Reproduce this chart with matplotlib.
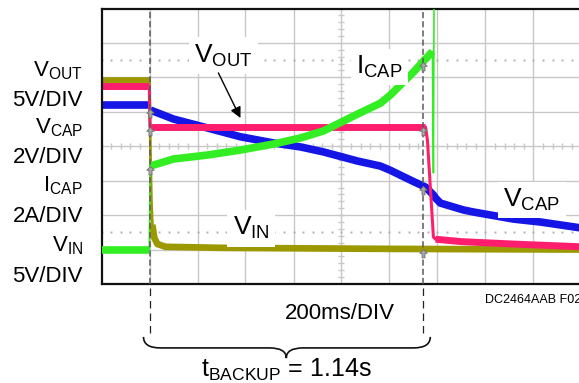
import numpy as np
import matplotlib.pyplot as plt
from matplotlib.path import Path
from matplotlib.patches import PathPatch

plt.rcParams['font.family'] = ['Liberation Sans', 'DejaVu Sans']
plt.rcParams['mathtext.fontset'] = 'custom'
plt.rcParams['mathtext.rm'] = 'Liberation Sans'
plt.rcParams['mathtext.it'] = 'Liberation Sans'

# scope: 200ms/DIV, power lost at t = 0
ms_per_div = 200
t_start, t_stop = -200, 1800
t_backup = 1140

# V_IN, 5V/DIV
vin_t = [-200, 0, 4, 8, 12, 20, 33, 67, 300, 1000, 1800]
vin_v = [24.6, 24.6, 14.0, 7.0, 3.6, 1.7, 0.8, 0.4, 0.25, 0.1, 0.0]

# V_OUT, 5V/DIV
vout_t = [-200, -1, 2, 1150, 1158, 1183, 1192, 1300, 1517, 1800]
vout_v = [23.7, 23.7, 17.8, 17.8, 15.9, 1.8, 1.5, 1.15, 0.8, 0.4]

# V_CAP, 2V/DIV
vcap_t = [-200, -1, 4, 100, 242, 379, 517, 629, 725, 867, 962, 1004, 1100,
          1150, 1183, 1192, 1212, 1308, 1350, 1517, 1629, 1800]
vcap_v = [10.4, 10.4, 10.1, 9.58, 9.06, 8.55, 8.19, 7.96, 7.67, 7.14, 6.85, 6.6,
          5.95, 5.63, 5.17, 4.99, 4.70, 4.30, 4.18, 3.77, 3.60, 3.25]

# I_CAP, 2A/DIV
icap_t = [-200, -1, 3, 100, 242, 379, 517, 629, 725, 867, 962, 1004, 1100,
          1142, 1179, 1183, 1186]
icap_a = [0.0, 0.0, 4.85, 5.26, 5.49, 5.78, 6.13, 6.48, 6.89, 7.87, 8.5, 8.98,
          10.31, 10.95, 11.5, 4.45, 16.0]

# channel: (zero level in divisions, units per division)
ch_vin = (1.0, 5)
ch_vout = (1.0, 5)
ch_vcap = (0.0, 2)
ch_icap = (1.0, 2)

c_vin = '#9c9800'
c_vout = '#ff1e6e'
c_vcap = '#1515e6'
c_icap = '#33ee22'
c_grid = '#c8c8c8'


def to_div(vals, ch):
    return ch[0] + np.asarray(vals, dtype=float) / ch[1]


fig = plt.figure(figsize=(5.79, 3.83), dpi=100)
ax = fig.add_axes([101.5 / 579, 99 / 383, 480 / 579, 275.5 / 383])
ax.set_xlim(t_start, t_stop)
ax.set_ylim(0, 8)
ax.set_xticks([])
ax.set_yticks([])
for s in ['left', 'bottom', 'top']:
    ax.spines[s].set_linewidth(1.6)
    ax.spines[s].set_color('#111111')
ax.spines['right'].set_visible(False)

# graticule
for t in np.arange(t_start + ms_per_div, t_stop, ms_per_div):
    ax.axvline(t, color=c_grid, lw=1.0, zorder=0.5)
for d in range(1, 8):
    ax.axhline(d, color=c_grid, lw=1.0, zorder=0.5)
minor_t = np.arange(t_start, t_stop + 1, ms_per_div / 5)
ax.plot(minor_t, np.full(len(minor_t), 4.0), ls='none', marker='|', ms=4,
        mew=1.0, color=c_grid, zorder=0.5)
minor_d = np.arange(0, 8.01, 0.2)
ax.plot(np.full(len(minor_d), 800.0), minor_d, ls='none', marker='_', ms=4,
        mew=1.0, color=c_grid, zorder=0.5)
for d in (1.5, 6.5):
    ax.plot(minor_t, np.full(len(minor_t), d), ls='none', marker='s', ms=1.4,
            mew=0, color='#b0b0b0', zorder=0.5)


def draw_trace(t, y, color, width, z, cuts=(), thin=1.2, skip=()):
    t = np.asarray(t, dtype=float)
    # thin line shows the fast edges, thick pieces show the noisy trace
    ax.plot(t, y, color=color, lw=thin, zorder=z)
    edges = [-np.inf, *cuts, np.inf]
    for i, (a, b) in enumerate(zip(edges[:-1], edges[1:])):
        if i in skip:
            continue
        m = (t > a) & (t < b)
        ax.plot(t[m], y[m], color=color, lw=width, zorder=z,
                solid_capstyle='butt', solid_joinstyle='round')


draw_trace(vin_t, to_div(vin_v, ch_vin), c_vin, 4.8, 2.0, cuts=(2, 10), thin=2.0, skip=(1,))
draw_trace(vcap_t, to_div(vcap_v, ch_vcap), c_vcap, 5.5, 2.2, cuts=(0,))
draw_trace(vout_t, to_div(vout_v, ch_vout), c_vout, 5.0, 2.4, cuts=(0, 1154, 1187),
           thin=2.2, skip=(2,))
draw_trace(icap_t, to_div(icap_a, ch_icap), c_icap, 5.5, 2.6, cuts=(0, 1180), skip=(2,))

# cursors
xt = ax.get_xaxis_transform()
for tc in (0, t_backup):
    ax.axvline(tc, color='#5a5a5a', lw=1.1, ls=(0, (4, 2)), zorder=3)
    ax.plot([tc, tc], [-0.015, -0.192], transform=xt, clip_on=False,
            color='#222222', lw=0.9, ls=(0, (6, 4)))

arrow = Path([(0, 0), (-0.45, -0.45), (-0.18, -0.45), (-0.18, -1), (0.18, -1),
              (0.18, -0.45), (0.45, -0.45), (0, 0)],
             [Path.MOVETO] + [Path.LINETO] * 6 + [Path.CLOSEPOLY])
marks = [(vcap_t, vcap_v, ch_vcap), (vout_t, vout_v, ch_vout), (icap_t, icap_a, ch_icap)]
for tc, chans in ((3, marks), (t_backup, marks + [(vin_t, vin_v, ch_vin)])):
    for t, v, ch in chans:
        ax.plot(tc, to_div(np.interp(tc, t, v), ch), marker=arrow, ms=12,
                mfc='#a8a8a8', mec='#6e6e6e', mew=0.6, zorder=4)

# trace labels
box = dict(boxstyle='square,pad=0.2', fc='white', ec='none')
ax.text(187, 6.43, r'V$_\mathrm{OUT}$', fontsize=19, va='baseline', bbox=box, zorder=5)
ax.text(862, 6.10, r'I$_\mathrm{CAP}$', fontsize=19, va='baseline', bbox=box, zorder=5)
ax.text(1475, 2.24, r'V$_\mathrm{CAP}$', fontsize=19, va='baseline', bbox=box, zorder=5)
ax.text(346, 1.42, r'V$_\mathrm{IN}$', fontsize=19, va='baseline', bbox=box, zorder=5)
ax.annotate('', xy=(379, 4.82), xytext=(287, 6.13),
            arrowprops=dict(arrowstyle='-|>', color='black', lw=1.0,
                            mutation_scale=16, shrinkA=0, shrinkB=0), zorder=5)

# channel scale labels on the left
left_labels = [r'V$_\mathrm{OUT}$', '5V/DIV', r'V$_\mathrm{CAP}$', '2V/DIV',
               r'I$_\mathrm{CAP}$', '2A/DIV', r'V$_\mathrm{IN}$', '5V/DIV']
left_base = [76.7, 106, 133.3, 163.3, 191.7, 221.7, 251.7, 281.7]
for s, yb in zip(left_labels, left_base):
    fig.text(83 / 579, 1 - yb / 383, s, fontsize=16, ha='right', va='baseline')

fig.text(340 / 579, 1 - 319 / 383, f'{ms_per_div}ms/DIV', fontsize=16,
         ha='center', va='baseline')
fig.text(485 / 579, 1 - 303 / 383, 'DC2464AAB F02', fontsize=9, ha='left',
         va='baseline')

# brace under the backup time
L, R, M = -25, t_backup + 30, t_backup / 2
d = 70
y0, y1, y2 = -0.192, -0.232, -0.269
verts = [(L, y0), (L, y1), (L + d, y1), (M - d, y1), (M, y1), (M, y2),
         (M, y1), (M + d, y1), (R - d, y1), (R, y1), (R, y0)]
codes = [Path.MOVETO, Path.CURVE3, Path.CURVE3, Path.LINETO, Path.CURVE3, Path.CURVE3,
         Path.CURVE3, Path.CURVE3, Path.LINETO, Path.CURVE3, Path.CURVE3]
ax.add_patch(PathPatch(Path(verts, codes), transform=xt, fill=False, lw=1.2,
                       ec='#111111', clip_on=False))
ax.text(M, (284 - 377) / 275.5, r't$_\mathrm{BACKUP}$' + f' = {t_backup / 1000:.2f}s',
        transform=xt, fontsize=18, ha='center', va='baseline')

fig.savefig('out.png', dpi=100)
